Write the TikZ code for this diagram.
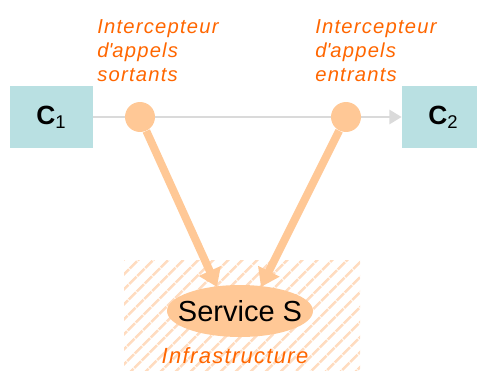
\documentclass[tikz,border=0pt]{standalone}
\usepackage{fontspec}
\setmainfont{Liberation Sans}
\usetikzlibrary{arrows.meta,shapes.geometric,patterns.meta}

\definecolor{boxteal}{RGB}{185,224,226}
\definecolor{peach}{RGB}{255,200,150}
\definecolor{labelorange}{RGB}{255,102,0}
\definecolor{hatch}{RGB}{255,220,192}
\definecolor{wire}{RGB}{218,218,218}

\tikzset{
    client/.style={fill=boxteal, minimum width=1.66cm, minimum height=1.24cm,
        inner sep=0pt, font=\fontsize{15}{15}\selectfont\bfseries},
    interceptor/.style={circle, fill=peach, minimum size=0.6cm, inner sep=0pt},
    note/.style={text=labelorange,
        font=\fontsize{11.5}{13.8}\selectfont\itshape\addfontfeature{LetterSpace=6},
        align=left, inner sep=0pt},
    callarrow/.style={draw=peach, line width=4.5pt,
        -{Triangle[width=13pt,length=10pt]}}
}

\begin{document}
\begin{tikzpicture}[x=0.02cm, y=-0.02cm]
    \useasboundingbox (0,0) rectangle (477,371);

    % Infrastructure zone
    \fill[pattern={Lines[angle=45, distance=6.5pt, line width=1.7pt]},
        pattern color=hatch] (124,261) rectangle (360,371);

    % Clients
    \node[client] (c1) at (51.5,117) {C\textsubscript{\mdseries 1}};
    \node[client] (c2) at (443.5,117) {C\textsubscript{\mdseries 2}};

    % Direct call
    \draw[wire, line width=1.6pt, -{Triangle[width=8pt,length=7pt]}]
        (c1.east) -- (c2.west);

    % Interceptors
    \node[interceptor] (out) at (140,117) {};
    \node[interceptor] (in) at (346,117) {};

    \node[note, anchor=north west] (outlabel) at (97,19)
        {Intercepteur\\d\textquotesingle appels\\sortants};
    \node[note, anchor=north west] (inlabel) at (315,19)
        {Intercepteur\\d\textquotesingle appels\\entrants};

    % Service
    \node[ellipse, fill=peach, minimum width=2.92cm, minimum height=1.04cm,
        inner sep=0pt, font=\fontsize{16.5}{16.5}\selectfont] (svc) at (240,311)
        {\makebox[0pt]{Service S}};
    \node[note, font=\fontsize{12.5}{12.5}\selectfont\itshape\addfontfeature{LetterSpace=6},
        anchor=base] (infra) at (235,363) {Infrastructure};

    % Redirected calls
    \coordinate (outtip) at (217,287);
    \coordinate (intip) at (261,287);
    \draw[callarrow] (out) -- (outtip);
    \draw[callarrow] (in) -- (intip);
\end{tikzpicture}
\end{document}
